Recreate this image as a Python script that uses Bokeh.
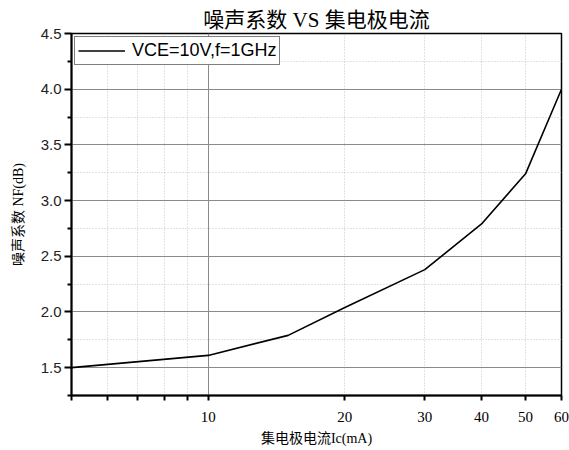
from bokeh.plotting import figure
from bokeh.models import FixedTicker, Grid, Range1d, NumeralTickFormatter
from bokeh.embed import file_html
from bokeh.resources import INLINE

# Data
ic_ma = [5, 10, 15, 20, 30, 40, 50, 60]
nf_db = [1.50, 1.61, 1.79, 2.04, 2.38, 2.79, 3.24, 4.00]
series_label = "VCE=10V,f=1GHz"

x_major_ticks = [10, 20, 30, 40, 50, 60]
x_minor_ticks = [5, 6, 7, 8, 9]
x_solid_grid = [10]
x_dotted_grid = [6, 7, 8, 9, 20, 30, 40, 50]
y_major_ticks = [1.5, 2.0, 2.5, 3.0, 3.5, 4.0, 4.5]
y_minor_ticks = [1.25, 1.75, 2.25, 2.75, 3.25, 3.75, 4.25]

title_text = "噪声系数 VS 集电极电流"
x_label = "集电极电流Ic(mA)"
y_label = "噪声系数 NF(dB)"

SERIF = "'Liberation Serif', 'Noto Sans CJK SC'"
SANS = "'Liberation Sans'"

p = figure(width=569, height=450, x_axis_type="log",
           x_range=Range1d(5, 60), y_range=Range1d(1.25, 4.5),
           output_backend="svg", toolbar_location=None,
           min_border_left=71, min_border_right=8,
           min_border_top=33, min_border_bottom=55,
           background_fill_color="white", border_fill_color="white")

p.title.text = title_text
p.title.align = "center"
p.title.text_font = SERIF
p.title.text_font_size = "21px"
p.title.text_font_style = "normal"
p.title.text_color = "black"
p.title.standoff = 4
p.title.offset = 0

p.outline_line_color = "black"
p.outline_line_width = 1.5

# grids
p.xgrid.visible = False
p.ygrid.visible = False
p.add_layout(Grid(dimension=0, ticker=FixedTicker(ticks=x_dotted_grid),
                  grid_line_color="#c4c4c4", grid_line_dash="1 2", grid_line_width=1))
p.add_layout(Grid(dimension=1, ticker=FixedTicker(ticks=y_minor_ticks),
                  grid_line_color="#c4c4c4", grid_line_dash="1 2", grid_line_width=1))
p.add_layout(Grid(dimension=0, ticker=FixedTicker(ticks=x_solid_grid),
                  grid_line_color="#8a8a8a", grid_line_width=1))
p.add_layout(Grid(dimension=1, ticker=FixedTicker(ticks=y_major_ticks),
                  grid_line_color="#8a8a8a", grid_line_width=1))

r = p.line(ic_ma, nf_db, line_color="black", line_width=1.6, legend_label=series_label)

# x axis
xa = p.xaxis[0]
xa.ticker = FixedTicker(ticks=x_major_ticks, minor_ticks=x_minor_ticks)
xa.axis_label = x_label
xa.axis_label_text_font = SERIF
xa.axis_label_text_font_size = "14px"
xa.axis_label_text_font_style = "normal"
xa.axis_label_text_color = "black"
xa.axis_label_standoff = 6
xa.major_label_text_font = SERIF
xa.major_label_text_font_size = "15px"
xa.major_label_text_color = "black"
xa.major_label_standoff = 11
xa.axis_line_width = 2
xa.axis_line_color = "black"
xa.major_tick_line_width = 2
xa.minor_tick_line_width = 2
xa.major_tick_out = 5
xa.major_tick_in = 0
xa.minor_tick_out = 5
xa.minor_tick_in = 0

# y axis
ya = p.yaxis[0]
ya.ticker = FixedTicker(ticks=y_major_ticks, minor_ticks=y_minor_ticks)
ya.formatter = NumeralTickFormatter(format="0.0")
ya.axis_label = y_label
ya.axis_label_text_font = SERIF
ya.axis_label_text_font_size = "14px"
ya.axis_label_text_font_style = "normal"
ya.axis_label_text_color = "black"
ya.axis_label_standoff = 12
ya.major_label_text_font = SANS
ya.major_label_text_font_size = "15px"
ya.major_label_text_color = "#222222"
ya.major_label_standoff = 3
ya.axis_line_width = 2
ya.axis_line_color = "black"
ya.major_tick_line_width = 2
ya.minor_tick_line_width = 2
ya.major_tick_out = 7
ya.major_tick_in = 0
ya.minor_tick_out = 4
ya.minor_tick_in = 0

# legend
lg = p.legend[0]
lg.location = "top_left"
lg.margin = 3
lg.padding = 3
lg.spacing = 0
lg.glyph_width = 47
lg.glyph_height = 17
lg.label_standoff = 7
lg.label_text_font = SANS
lg.label_text_font_size = "18px"
lg.label_text_color = "black"
lg.label_height = 17
lg.border_line_color = "black"
lg.border_line_width = 1
lg.background_fill_alpha = 1

open("out.html", "w").write(file_html(p, INLINE))
